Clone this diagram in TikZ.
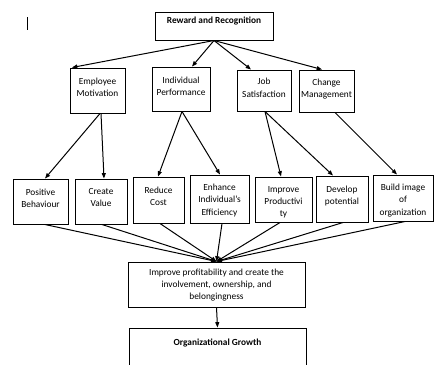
\documentclass[tikz,border=0pt]{standalone}
\usepackage{fontspec}
\setmainfont{Carlito}
\usetikzlibrary{arrows.meta}

\tikzset{every picture/.style={line width=0.75pt}}

\begin{document}
\begin{tikzpicture}[x=0.75pt,y=0.75pt,yscale=-1,xscale=1,
  box/.style 2 args={draw, minimum width=#1*0.75pt, minimum height=#2*0.75pt, inner sep=0pt},
  txt/.style={anchor=north, align=center, inner xsep=0pt, inner ysep=#1, font=\fontsize{7}{9.2}\selectfont},
  txt/.default=7.2pt,
  arr/.style={-{Triangle[length=4pt,width=3pt]}}]
\clip (0,0) rectangle (434,364);

%Shape: Line (cursor mark)
\draw [line width=0.5pt] (27,17) -- (27,30) ;

%Shape: Rectangle [top]
\node [box={118}{28}, label={[txt=3.8pt]north:\textbf{Reward and Recognition}}] (reward) at (214,26) {};

%Shape: Rectangle [second row]
\node [box={55}{45}, label={[txt]north:{Employee\\Motivation}}] (empmot) at (97.5,90.5) {};
\node [box={58}{44}, label={[txt]north:{Individual\\Performance}}] (indperf) at (181,89) {};
\node [box={54}{41}, label={[txt=6.2pt]north:{Job\\Satisfaction}}] (jobsat) at (264,90.5) {};
\node [box={55}{42}, label={[txt=6.4pt]north:{Change\\Management}}] (chgmgmt) at (326.5,91) {};

%Shape: Rectangle [third row]
\node [box={55}{45}, label={[txt]north:{Positive\\Behaviour}}] (posbeh) at (40.5,201.5) {};
\node [box={52}{45}, label={[txt]north:{Create\\Value}}] (crval) at (101,201.5) {};
\node [box={51}{46}, label={[txt]north:{Reduce\\Cost}}] (redcost) at (158.5,200) {};
\node [box={59}{48}, label={[txt=6.8pt]north:{Enhance\\Individual’s\\Efficiency}}] (enheff) at (219.5,199) {};
\node [box={57}{45}, label={[txt=6.8pt]north:{Improve\\Productivi\\ty}}] (improd) at (283.5,199.5) {};
\node [box={52}{46}, label={[txt]north:{Develop\\potential}}] (devpot) at (342,199) {};
\node [box={60}{46}, label={[txt=6.8pt]north:{Build image\\of\\organization}}] (bldimg) at (403,198) {};

%Shape: Rectangle [bottom]
\node [box={177}{45}, label={[txt=5.2pt]north:{Improve profitability and create the\\involvement, ownership, and\\belongingness}}] (improve) at (216.5,284.5) {};
\node [box={177}{44}, label={[txt=8.2pt]north:\textbf{Organizational Growth}}] (growth) at (217.5,350) {};

%Straight Lines [top to second row]
\draw [arr] (reward.south) -- (72,0 |- empmot.north) ;
\draw [arr] (reward.south) -- (192,0 |- indperf.north) ;
\draw [arr] (reward.south) -- (251,0 |- jobsat.north) ;
\draw [arr] (reward.south) -- (322,0 |- chgmgmt.north) ;

%Straight Lines [second row to third row]
\draw [arr] (100,0 |- empmot.south) -- (45,0 |- posbeh.north) ;
\draw [arr] (101,0 |- empmot.south) -- (104,0 |- crval.north) ;
\draw [arr] (182,0 |- indperf.south) -- (158,0 |- redcost.north) ;
\draw [arr] (182,0 |- indperf.south) -- (220,0 |- enheff.north) ;
\draw [arr] (265,0 |- jobsat.south) -- (281,0 |- improd.north) ;
\draw [arr] (265,0 |- jobsat.south) -- (333,0 |- devpot.north) ;
\draw [arr] (335,0 |- chgmgmt.south) -- (397,0 |- bldimg.north) ;

%Straight Lines [third row to improve]
\draw [arr] (45,0 |- posbeh.south) -- (improve.north) ;
\draw [arr] (102,0 |- crval.south) -- (improve.north) ;
\draw [arr] (160,0 |- redcost.south) -- (improve.north) ;
\draw [arr] (222,0 |- enheff.south) -- (improve.north) ;
\draw [arr] (280,0 |- improd.south) -- (improve.north) ;
\draw [arr] (343,0 |- devpot.south) -- (improve.north) ;
\draw [arr] (405,0 |- bldimg.south) -- (improve.north) ;

%Straight Lines [improve to growth]
\draw [arr] (improve.south) -- (growth.north) ;

\end{tikzpicture}
\end{document}
